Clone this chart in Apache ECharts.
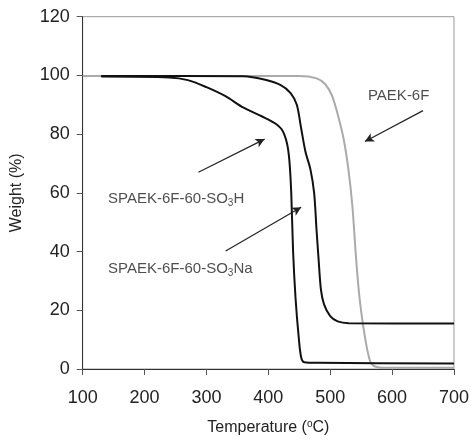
<!DOCTYPE html>
<html>
<head>
<meta charset="utf-8">
<script src="https://cdn.jsdelivr.net/npm/echarts@6/dist/echarts.min.js"></script>
<style>
html,body{margin:0;padding:0;background:#fff;}
#c{width:472px;height:441px;}
</style>
</head>
<body>
<div id="c"></div>
<script>
// ---- data ----
const xTicks = [100, 200, 300, 400, 500, 600, 700];
const yTicks = [0, 20, 40, 60, 80, 100, 120];

const so3h = [[130,99.6],[240,99.3],[270,98.4],[300,96],[330,93],[360,89],[390,86],[410,83.8],[422,81.5],[430,77],[434,71],[437,60],[440,40],[444,24],[449,11],[453,4],[458,2.3],[480,2.1],[700,1.9]];
const so3na = [[130,99.8],[360,99.7],[395,98.5],[420,96.7],[436,94],[446,90],[453,82],[460,74],[468,68],[474,60],[478,47],[481,38],[485,27],[490,22],[500,18],[512,16.2],[530,15.6],[700,15.5]];
const paek = [[100,99.8],[450,99.8],[478,99],[492,97],[503,93],[513,86],[522,78],[530,67],[536,55],[541,40],[546,27],[551,18],[556,11],[561,5.4],[566,2],[575,0.7],[600,0.4],[700,0.4]];

const labelTexts = ['SPAEK-6F-60-SO{sub|3}H', 'SPAEK-6F-60-SO{sub|3}Na', 'PAEK-6F'];
const labelPos = [[141,57.9],[141,34.0],[561,93.0]];
const arrows = [[[287,67.0],[394,78.3]],[[331,40.2],[453,55.1]],[[650,88.0],[556,77.5]]];

// ---- chart ----
const chart = echarts.init(document.getElementById('c'), null, {renderer:'canvas'});
const font = 'Liberation Sans, Arial, sans-serif';
const lineSeries = (name, data, color) => ({
  name, type:'line', data, showSymbol:false, symbol:'none',
  smooth:0.3,
  lineStyle:{color, width:2}, silent:true, z:3
});
chart.setOption({
  animation:false,
  textStyle:{fontFamily:font},
  grid:{left:82.7, right:15.7, top:16.7, bottom:68.3, show:true, borderColor:'#999', borderWidth:1},
  xAxis:{
    type:'value', min:100, max:700, interval:100,
    name:'Temperature ({sup|o}C)', nameLocation:'middle', nameGap:50,
    nameTextStyle:{fontSize:16, color:'#222', fontFamily:font,
      rich:{sup:{fontSize:10, verticalAlign:'top', padding:[0,0,8,0], color:'#222', fontFamily:font}}},
    axisLine:{lineStyle:{color:'#333', width:1}},
    axisTick:{length:6, lineStyle:{color:'#555'}},
    axisLabel:{fontSize:18, color:'#222', margin:20, fontFamily:font,
      formatter:v => xTicks.includes(v) ? String(v) : ''},
    splitLine:{show:false}
  },
  yAxis:{
    type:'value', min:0, max:120, interval:20,
    name:'Weight (%)', nameLocation:'middle', nameGap:58,
    nameTextStyle:{fontSize:16, color:'#222', fontFamily:font},
    axisLine:{show:true, lineStyle:{color:'#333', width:1}},
    axisTick:{show:true, length:6, lineStyle:{color:'#555'}},
    axisLabel:{fontSize:18, color:'#222', margin:13, fontFamily:font,
      formatter:v => yTicks.includes(v) ? String(v) : ''},
    splitLine:{show:false}
  },
  series:[
    lineSeries('PAEK-6F', paek, '#aaaaaa'),
    lineSeries('SPAEK-6F-60-SO3Na', so3na, '#111111'),
    Object.assign(lineSeries('SPAEK-6F-60-SO3H', so3h, '#111111'), {
      markLine:{
        silent:true, symbol:['none','arrow'], symbolSize:[7,9],
        label:{show:false},
        lineStyle:{color:'#222', width:1.2, type:'solid'},
        data:arrows.map(a => [{coord:a[0]},{coord:a[1]}])
      }
    }),
    {
      type:'scatter', symbolSize:0, silent:true, z:5,
      data:labelPos.map((p,i) => ({value:p, label:{
        show:true, position:'right', distance:0,
        formatter:labelTexts[i], fontSize:15, color:'#222', fontFamily:font,
        rich:{sub:{fontSize:10, verticalAlign:'bottom', padding:[8,0,0,0], color:'#222', fontFamily:font}}
      }}))
    }
  ]
});
</script>
</body>
</html>
